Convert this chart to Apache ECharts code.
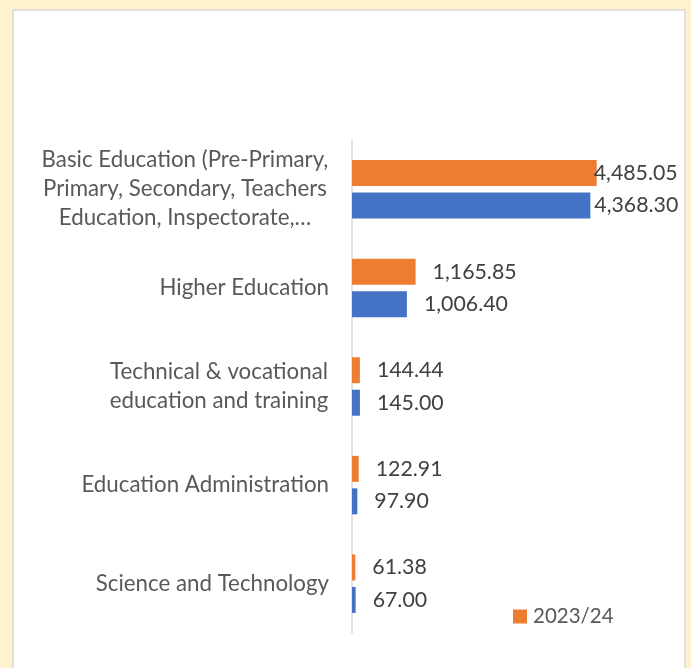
<!DOCTYPE html>
<html>
<head>
<meta charset="utf-8">
<script src="https://cdn.jsdelivr.net/npm/echarts@6/dist/echarts.min.js"></script>
<style>
html,body{margin:0;padding:0;background:#FFF2CC;}
#chart{width:691px;height:668px;}
</style>
</head>
<body>
<div id="chart"></div>
<script>
var categories = [
  "Basic Education (Pre-Primary,\nPrimary, Secondary, Teachers\nEducation, Inspectorate,…",
  "Higher Education",
  "Technical & vocational\neducation and training",
  "Education Administration",
  "Science and Technology"
];
var values2023 = [4485.05, 1165.85, 144.44, 122.91, 61.38];
var values2022 = [4368.30, 1006.40, 145.00, 97.90, 67.00];
var seriesNames = ["2023/24", "2022/23"];

var FONT = "Lato";
var CAT_SIZE = 22.3;
function fmt(v){ return v.toLocaleString('en-US',{minimumFractionDigits:2, maximumFractionDigits:2}); }
function buildData(arr, firstDist){
  return arr.map(function(v,i){
    if(i===0) return {value:v, label:{distance:firstDist}};
    return v;
  });
}
var ctx = document.createElement('canvas').getContext('2d');
ctx.font = CAT_SIZE + 'px ' + FONT;
var rich = {};
categories.forEach(function(c, i){
  var lines = c.split('\n');
  var w = Math.max.apply(null, lines.map(function(l){ return ctx.measureText(l).width; }));
  rich['c' + i] = {width: Math.ceil(w) + 1, align:'center', fontFamily:FONT, fontSize:CAT_SIZE, lineHeight:29, color:'#595959'};
});

var labelStyle = {show:true, position:'right', distance:17, color:'#404040', fontFamily:FONT, fontSize:21.3, formatter:function(p){return fmt(p.value);}};

var chart = echarts.init(document.getElementById('chart'), null, {renderer:'canvas'});
chart.setOption({
  backgroundColor:'#FFF2CC',
  animation:false,
  graphic:[{type:'rect', shape:{x:13, y:10, width:672, height:680}, style:{fill:'#FFFFFF', stroke:'#D9D9D9', lineWidth:1.5}, z:-10}],
  grid:{left:352, top:140, width:272.8, height:493, containLabel:false},
  xAxis:{type:'value', min:0, max:5000, show:false},
  yAxis:{type:'category', data:categories, inverse:true,
    axisLine:{show:true, lineStyle:{color:'#D9D9D9', width:1.5}},
    axisTick:{show:false},
    axisLabel:{margin:23, color:'#595959', fontFamily:FONT, fontSize:CAT_SIZE, lineHeight:29, align:'right',
      formatter:function(v, idx){
        var lines = v.split('\n');
        if(lines.length < 2) return v;
        return lines.map(function(l){ return '{c' + idx + '|' + l + '}'; }).join('\n');
      },
      rich:rich
    }
  },
  legend:{data:[seriesNames[0]], left:513, top:606, padding:0, icon:'rect', itemWidth:14, itemHeight:14, itemGap:10,
    textStyle:{color:'#595959', fontFamily:FONT, fontSize:20.5, padding:[0,0,0,1]}},
  series:[
    {name:seriesNames[0], type:'bar', data:buildData(values2023,-3), barWidth:26, barGap:'25%', itemStyle:{color:'#ED7D31'}, label:labelStyle},
    {name:seriesNames[1], type:'bar', data:buildData(values2022,4), barWidth:26, barGap:'25%', itemStyle:{color:'#4472C4'}, label:labelStyle}
  ]
});
</script>
</body>
</html>
